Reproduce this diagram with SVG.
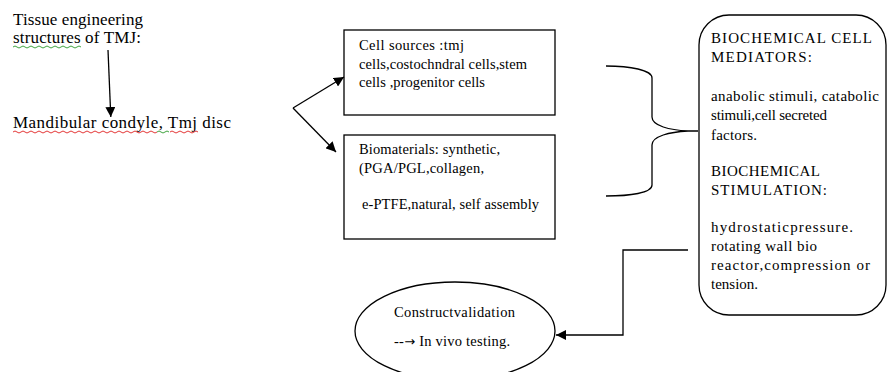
<svg xmlns="http://www.w3.org/2000/svg" width="887" height="372" viewBox="0 0 887 372">
<style>
text{font-family:"Liberation Serif","Times New Roman",serif;fill:#000}
.big{font-size:17px}
.sm{font-size:14.5px}
.rt{font-size:15px}
.ln{fill:none;stroke:#000;stroke-width:1.3}
.box{fill:#fff;stroke:#000;stroke-width:1.3}
.wr{fill:none;stroke:#e02020;stroke-width:0.9}
.wg{fill:none;stroke:#2a9a2a;stroke-width:0.9}
</style>
<defs>
<marker id="ah" viewBox="0 0 10 10" refX="10" refY="5" markerWidth="10" markerHeight="10" markerUnits="userSpaceOnUse" orient="auto">
<path d="M0,0 L10,5 L0,10 z" fill="#000"/>
</marker>
</defs>
<rect width="887" height="372" fill="#fff"/>

<g id="title">
<text class="big" x="13" y="25" textLength="130" lengthAdjust="spacing">Tissue engineering</text>
<text class="big" x="13" y="43" textLength="128" lengthAdjust="spacing">structures of TMJ:</text>
<path class="wg" d="M13,47 q2,-2 4,0 t4,0 t4,0 t4,0 t4,0 t4,0 t4,0 t4,0 t4,0 t4,0 t4,0 t4,0 t4,0 t4,0 t4,0 t4,0 t4,0"/>
</g>

<g id="structures">
<text class="big" x="13" y="128" textLength="218" lengthAdjust="spacing">Mandibular condyle,  Tmj disc</text>
<path class="wr" d="M13,132 q2,-2 4,0 t4,0 t4,0 t4,0 t4,0 t4,0 t4,0 t4,0 t4,0 t4,0 t4,0 t4,0 t4,0 t4,0 t4,0 t4,0 t4,0 t4,0 t4,0 t4,0 t4,0 t4,0 t4,0 t4,0 t4,0 t4,0 t4,0 t4,0 t4,0 t4,0 t4,0 t4,0 t4,0 t4,0 t4,0 t4,0"/>
<path class="wg" d="M157,132 q2,-2 4,0 t4,0 t4,0"/>
<path class="wr" d="M170,132 q2,-2 4,0 t4,0 t4,0 t4,0 t4,0 t4,0 t4,0"/>
</g>

<g id="cell-sources">
<rect class="box" x="344" y="30" width="211" height="85"/>
<text class="sm" x="359" y="50" textLength="105" lengthAdjust="spacing">Cell  sources :tmj</text>
<text class="sm" x="359" y="69" textLength="168" lengthAdjust="spacing">cells,costochndral cells,stem</text>
<text class="sm" x="359" y="87" textLength="126" lengthAdjust="spacing">cells ,progenitor cells</text>
</g>

<g id="biomaterials">
<rect class="box" x="344" y="135" width="211" height="104"/>
<text class="sm" x="359" y="154" textLength="141" lengthAdjust="spacing">Biomaterials: synthetic,</text>
<text class="sm" x="359" y="173" textLength="125" lengthAdjust="spacing">(PGA/PGL,collagen,</text>
<text class="sm" x="362" y="209" textLength="177" lengthAdjust="spacing">e-PTFE,natural, self assembly</text>
</g>

<g id="mediators">
<rect class="box" x="699" y="15" width="187" height="300" rx="30" ry="30"/>
<text class="rt" x="711" y="43" textLength="161" lengthAdjust="spacing">BIOCHEMICAL   CELL</text>
<text class="rt" x="711" y="62" textLength="101" lengthAdjust="spacing">MEDIATORS:</text>
<text class="rt" x="711" y="101" textLength="168" lengthAdjust="spacing">anabolic stimuli, catabolic</text>
<text class="rt" x="711" y="120" textLength="116" lengthAdjust="spacing">stimuli,cell secreted</text>
<text class="rt" x="711" y="140" textLength="46" lengthAdjust="spacing">factors.</text>
<text class="rt" x="711" y="176" textLength="109" lengthAdjust="spacing">BIOCHEMICAL</text>
<text class="rt" x="711" y="195" textLength="116" lengthAdjust="spacing">STIMULATION:</text>
<text class="rt" x="711" y="232" textLength="142" lengthAdjust="spacing">hydrostaticpressure.</text>
<text class="rt" x="711" y="251" textLength="106" lengthAdjust="spacing">rotating wall bio</text>
<text class="rt" x="711" y="270" textLength="159" lengthAdjust="spacing">reactor,compression or</text>
<text class="rt" x="711" y="289" textLength="47" lengthAdjust="spacing">tension.</text>
</g>

<g id="validation">
<ellipse class="box" cx="455" cy="331" rx="100" ry="49"/>
<text class="sm" x="394" y="317" textLength="121" lengthAdjust="spacing">Constructvalidation</text>
<text class="sm" x="394" y="346" textLength="116" lengthAdjust="spacing">--<tspan font-family="DejaVu Sans, sans-serif" font-size="13">→</tspan> In vivo testing.</text>
</g>

<g id="connectors">
<path class="ln" d="M108,50 L110.8,117" marker-end="url(#ah)"/>
<path class="ln" d="M293,108 L344,77" marker-end="url(#ah)"/>
<path class="ln" d="M293,108 L336,152" marker-end="url(#ah)"/>
<path class="ln" d="M606,66 C630,66 652,70 652,78 L652,117 C652,126 670,130 688,131 L698,131 M688,131 C670,132 652,136 652,145 L652,185 C652,193 630,196 606,196"/>
<path class="ln" d="M688,250 L623,250 L623,335 L556,335" marker-end="url(#ah)"/>
</g>
</svg>
